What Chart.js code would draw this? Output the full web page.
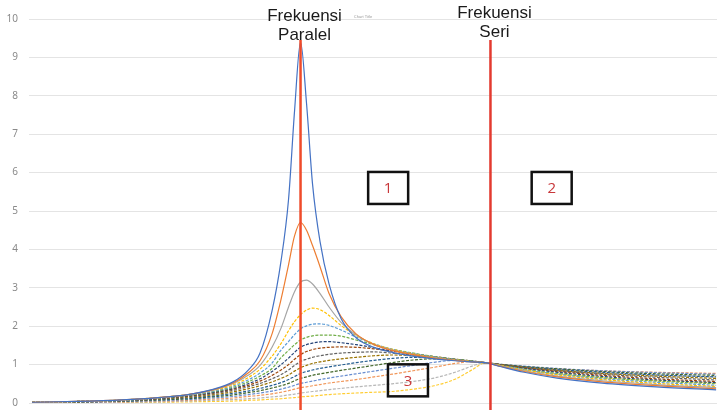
<!DOCTYPE html>
<html>
<head>
<meta charset="utf-8">
<script src="https://cdn.jsdelivr.net/npm/chart.js@4.4.1/dist/chart.umd.min.js"></script>
<style>
  html, body { margin: 0; padding: 0; background: #fff; overflow: hidden; }
</style>
</head>
<body>
<canvas id="chart" width="717" height="410"></canvas>
<script>
// frequency index (x) shared by all curves
const freqIdx = [0, 15, 30, 42, 52, 60, 67, 72, 76, 80, 83, 85.5, 87.5, 89.5, 91.5, 93.5, 96, 99, 103, 108,
  114, 120, 127, 134, 141, 147, 151, 156, 164, 175, 190, 208, 228];

const kurva01 = [0.02,0.04,0.08,0.14,0.22,0.35,0.55,0.85,1.3,2.4,3.7,5.3,7.6,9.4,7.8,5.7,4.2,3.1,2.2,1.7,1.45,1.32,1.22,1.15,1.1,1.07,1.05,0.95,0.8,0.65,0.52,0.42,0.34];
const kurva02 = [0.02,0.04,0.08,0.14,0.22,0.34,0.52,0.78,1.1,1.8,2.7,3.6,4.35,4.7,4.5,4.1,3.55,2.85,2.25,1.8,1.52,1.37,1.26,1.17,1.11,1.07,1.05,0.96,0.82,0.68,0.55,0.45,0.37];
const kurva03 = [0.02,0.04,0.08,0.14,0.22,0.33,0.5,0.72,0.98,1.45,1.95,2.5,2.9,3.15,3.2,3.1,2.85,2.5,2.1,1.78,1.52,1.38,1.26,1.18,1.11,1.07,1.05,0.97,0.84,0.7,0.58,0.48,0.4];
const kurva04 = [0.02,0.04,0.08,0.14,0.22,0.32,0.47,0.66,0.88,1.22,1.55,1.88,2.12,2.3,2.42,2.47,2.43,2.28,2.02,1.76,1.54,1.4,1.28,1.19,1.12,1.08,1.05,0.98,0.86,0.73,0.61,0.51,0.43];
const kurva05 = [0.02,0.04,0.07,0.13,0.21,0.3,0.44,0.6,0.78,1.04,1.38,1.6,1.78,1.93,2.01,2.05,2.06,2.02,1.9,1.72,1.54,1.4,1.29,1.2,1.13,1.08,1.05,0.98,0.87,0.75,0.63,0.54,0.46];
const kurva06 = [0.02,0.04,0.07,0.13,0.2,0.29,0.41,0.55,0.7,0.9,1.18,1.37,1.52,1.64,1.71,1.75,1.77,1.77,1.74,1.64,1.52,1.4,1.3,1.21,1.14,1.09,1.05,0.99,0.88,0.77,0.66,0.57,0.5];
const kurva07 = [0.02,0.04,0.07,0.12,0.19,0.27,0.38,0.5,0.63,0.82,1.0,1.17,1.32,1.45,1.52,1.56,1.59,1.6,1.57,1.52,1.44,1.36,1.28,1.2,1.14,1.09,1.05,0.99,0.9,0.8,0.69,0.6,0.53];
const kurva08 = [0.02,0.04,0.07,0.12,0.18,0.26,0.36,0.46,0.57,0.72,0.86,1.0,1.14,1.26,1.34,1.39,1.43,1.45,1.46,1.45,1.41,1.35,1.28,1.21,1.14,1.09,1.05,1.0,0.91,0.82,0.72,0.63,0.56];
const kurva09 = [0.02,0.04,0.06,0.11,0.17,0.24,0.33,0.42,0.51,0.63,0.74,0.86,0.98,1.08,1.14,1.19,1.23,1.27,1.3,1.32,1.33,1.3,1.25,1.19,1.13,1.08,1.05,1.0,0.92,0.84,0.75,0.67,0.6];
const kurva10 = [0.02,0.03,0.06,0.1,0.15,0.21,0.29,0.37,0.45,0.55,0.64,0.73,0.83,0.92,0.98,1.03,1.07,1.11,1.15,1.19,1.23,1.25,1.23,1.18,1.12,1.08,1.05,1.0,0.93,0.85,0.77,0.7,0.64];
const kurva11 = [0.01,0.03,0.05,0.09,0.13,0.18,0.25,0.31,0.38,0.46,0.53,0.61,0.69,0.77,0.82,0.86,0.9,0.94,0.99,1.05,1.11,1.16,1.19,1.17,1.12,1.08,1.05,1.0,0.94,0.87,0.8,0.73,0.68];
const kurva12 = [0.01,0.03,0.05,0.08,0.11,0.16,0.21,0.27,0.32,0.39,0.45,0.51,0.58,0.64,0.68,0.72,0.76,0.8,0.85,0.91,0.98,1.05,1.12,1.15,1.12,1.08,1.05,1.01,0.95,0.89,0.82,0.76,0.72];
const kurva13 = [0.01,0.02,0.04,0.06,0.09,0.13,0.17,0.22,0.26,0.31,0.36,0.41,0.46,0.51,0.54,0.57,0.61,0.65,0.7,0.76,0.83,0.9,0.98,1.06,1.11,1.09,1.05,1.01,0.96,0.9,0.84,0.79,0.75];
const kurva14 = [0.01,0.02,0.03,0.05,0.07,0.1,0.13,0.17,0.2,0.24,0.28,0.32,0.36,0.4,0.42,0.45,0.48,0.52,0.56,0.61,0.68,0.75,0.84,0.93,1.03,1.08,1.05,1.0,0.95,0.89,0.84,0.8,0.77];
const kurva15 = [0.01,0.01,0.02,0.03,0.05,0.07,0.09,0.11,0.13,0.16,0.18,0.21,0.23,0.26,0.28,0.3,0.32,0.35,0.38,0.42,0.46,0.5,0.56,0.65,0.8,0.97,1.05,0.99,0.92,0.85,0.78,0.72,0.68];
const kurva16 = [0,0.01,0.01,0.02,0.03,0.04,0.05,0.07,0.08,0.1,0.11,0.13,0.14,0.16,0.17,0.18,0.2,0.22,0.24,0.26,0.28,0.3,0.36,0.45,0.62,0.88,1.05,0.96,0.86,0.76,0.66,0.58,0.52];

const yTicks = [0, 1, 2, 3, 4, 5, 6, 7, 8, 9, 10];

// marker lines and labels
const freqParalel = 89.5;
const freqSeri = 152.8;
const boxLabels = [
  { text: '1', x: 118.7, y: 5.6 },
  { text: '2', x: 173.2, y: 5.6 },
  { text: '3', x: 125.3, y: 0.59 }
];

const allCurves = [kurva01, kurva02, kurva03, kurva04, kurva05, kurva06, kurva07, kurva08,
  kurva09, kurva10, kurva11, kurva12, kurva13, kurva14, kurva15, kurva16];
const colors = ['#4472C4', '#ED7D31', '#A5A5A5', '#FFC000', '#5B9BD5', '#70AD47', '#264478', '#9E480E',
  '#636363', '#997300', '#255E91', '#43682B', '#698ED0', '#F1975A', '#B7B7B7', '#FFCD33'];

const datasets = allCurves.map((vals, i) => ({
  label: 'Series' + (i + 1),
  data: vals.map((v, j) => ({ x: freqIdx[j], y: v })),
  borderColor: colors[i],
  borderWidth: 1.2,
  borderDash: i >= 3 ? [3, 1.5] : [],
  pointRadius: 0,
  cubicInterpolationMode: 'monotone',
  fill: false
}));

// draws red frequency lines, their labels and the numbered boxes
const overlay = {
  id: 'overlay',
  afterDatasetsDraw(chart) {
    const { ctx, scales: { x, y } } = chart;
    ctx.save();

    const lines = [
      { f: freqParalel, color: '#ef4b2a', words: ['Frekuensi', 'Paralel'], dx: 4, base: 21 },
      { f: freqSeri, color: '#e33a2f', words: ['Frekuensi', 'Seri'], dx: 4, base: 18 }
    ];
    lines.forEach(l => {
      const px = x.getPixelForValue(l.f);
      ctx.strokeStyle = l.color;
      ctx.lineWidth = 2.5;
      ctx.beginPath();
      ctx.moveTo(px, y.getPixelForValue(9.45));
      ctx.lineTo(px, chart.height);
      ctx.stroke();
      ctx.fillStyle = '#1a1a1a';
      ctx.font = '17px "Liberation Sans", Arial, sans-serif';
      ctx.textAlign = 'center';
      ctx.textBaseline = 'alphabetic';
      l.words.forEach((w, i) => ctx.fillText(w, px + l.dx, l.base + i * 18.5));
    });

    // tiny default title
    ctx.fillStyle = '#9a9a9a';
    ctx.font = '4px "Liberation Sans", sans-serif';
    ctx.fillText('Chart Title', 363, 18);

    boxLabels.forEach(b => {
      const cx = x.getPixelForValue(b.x);
      const cy = y.getPixelForValue(b.y);
      ctx.strokeStyle = '#111';
      ctx.lineWidth = 2.5;
      ctx.strokeRect(cx - 20, cy - 16, 40, 32);
      ctx.fillStyle = '#c8373a';
      ctx.font = '15px "Open Sans", sans-serif';
      ctx.textAlign = 'center';
      ctx.textBaseline = 'middle';
      ctx.fillText(b.text, cx, cy + 1);
    });
    ctx.restore();
  }
};

new Chart(document.getElementById('chart'), {
  type: 'line',
  data: { datasets },
  options: {
    responsive: false,
    animation: false,
    layout: { padding: { top: 19, left: 0, right: 0, bottom: 0 } },
    plugins: {
      legend: { display: false },
      tooltip: { enabled: false }
    },
    scales: {
      x: {
        type: 'linear',
        min: -1,
        max: 228.3,
        grid: { display: false },
        border: { display: false },
        afterFit: (s) => { s.height = 7; s.paddingLeft = 0; s.paddingRight = 0; },
        ticks: {
          stepSize: 1,
          autoSkip: false,
          maxRotation: 90,
          minRotation: 90,
          padding: 0,
          color: '#8c8c8c',
          font: { size: 6, family: 'Liberation Sans' },
          callback: (v) => (v >= 0 && Math.abs(v - Math.round(v)) < 1e-6) ? String(100 + Math.round(v)) : ''
        }
      },
      y: {
        min: 0,
        max: 10,
        afterFit: (s) => { s.width = 29; s.paddingTop = 0; s.paddingBottom = 0; },
        afterBuildTicks: (s) => { s.ticks = yTicks.map(v => ({ value: v })); },
        grid: { color: '#e4e4e4', drawTicks: false },
        border: { display: false },
        ticks: {
          padding: 11,
          color: '#8a8a8a',
          font: { size: 10, family: 'Noto Sans' }
        }
      }
    }
  },
  plugins: [overlay]
});
</script>
</body>
</html>
